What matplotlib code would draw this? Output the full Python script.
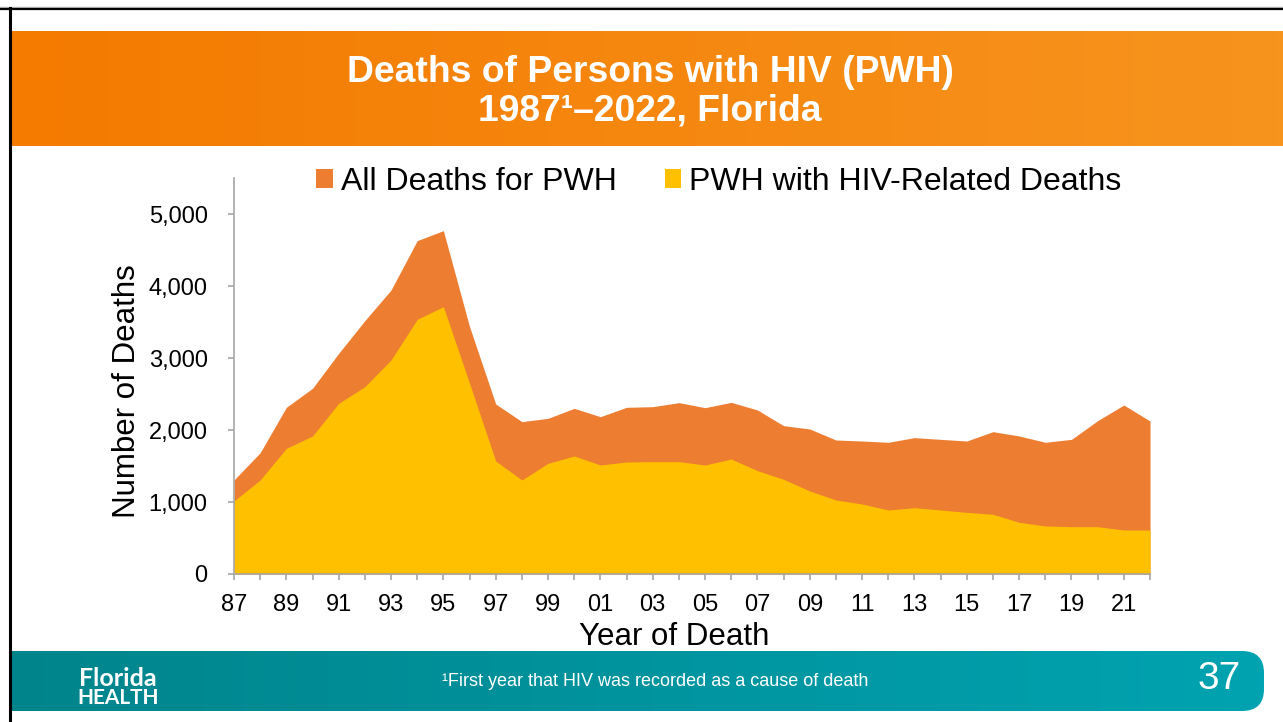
import matplotlib
matplotlib.use("Agg")
import matplotlib.pyplot as plt
import numpy as np
from matplotlib.patches import Patch, FancyBboxPatch, Rectangle
from matplotlib.colors import LinearSegmentedColormap

plt.rcParams['font.family'] = ['Liberation Sans', 'DejaVu Sans']

# data
years = list(range(1987, 2023))
all_deaths = [1306, 1685, 2315, 2579, 3065, 3519, 3944, 4630, 4769, 3435,
              2361, 2116, 2162, 2301, 2185, 2315, 2324, 2380, 2310, 2384,
              2278, 2060, 2014, 1861, 1847, 1829, 1894, 1870, 1847, 1977,
              1917, 1829, 1870, 2130, 2347, 2125]
hiv_deaths = [1014, 1306, 1745, 1917, 2370, 2602, 2972, 3537, 3713, 2648,
              1569, 1306, 1537, 1639, 1514, 1556, 1560, 1560, 1514, 1597,
              1435, 1315, 1153, 1028, 972, 889, 921, 889, 856, 829,
              718, 667, 657, 657, 611, 611]
series_names = ['All Deaths for PWH', 'PWH with HIV-Related Deaths']
year_labels = [f"{y % 100:02d}" if y % 2 == 1 else '' for y in years]
y_ticks = [0, 1000, 2000, 3000, 4000, 5000]

ORANGE = '#ED7D31'
YELLOW = '#FFC000'
AXIS_GRAY = '#A6A6A6'

W, H = 1283, 722
fig = plt.figure(figsize=(W / 100, H / 100), dpi=100)
fig.patch.set_facecolor('white')

# slide decorations, drawn in pixel coords
bg = fig.add_axes([0, 0, 1, 1], zorder=-1)
bg.set_xlim(0, W)
bg.set_ylim(H, 0)
bg.axis('off')

grad = np.linspace(0, 1, 256).reshape(1, -1)
orange_cmap = LinearSegmentedColormap.from_list('o', ['#F47A00', '#F7941E'])
bg.imshow(grad, cmap=orange_cmap, extent=(11, W, 146, 31), aspect='auto')

teal_cmap = LinearSegmentedColormap.from_list('t', ['#00838A', '#00A3B1'])
band = FancyBboxPatch((-40, 651), 1304, 60,
                      boxstyle="round,pad=0,rounding_size=22",
                      facecolor='none', edgecolor='none')
bg.add_patch(band)
im = bg.imshow(grad, cmap=teal_cmap, extent=(-40, 1264, 711, 651), aspect='auto')
im.set_clip_path(band)

bg.add_patch(Rectangle((0, 0), 9, H, facecolor='white', edgecolor='none'))
bg.plot([0, W], [7, 7], color='#BBBBBB', lw=1.0)
bg.plot([0, W], [9, 9], color='black', lw=1.6)
bg.plot([9.5, 9.5], [8, H], color='black', lw=2.2)
bg.set_xlim(0, W)
bg.set_ylim(H, 0)

fig.text(650 / W, 1 - 82 / H, 'Deaths of Persons with HIV (PWH)', color='white',
         fontsize=26.8, fontweight='bold', ha='center', va='baseline')
fig.text(650 / W, 1 - 120 / H, '1987\u00b9\u20132022, Florida', color='white',
         fontsize=26.8, fontweight='bold', ha='center', va='baseline')

# footer
fig.text(118 / W, 1 - 686 / H, 'Florida', color='white', fontsize=18,
         fontweight='bold', family='Lato', ha='center', va='baseline')
fig.text(118 / W, 1 - 704 / H, 'HEALTH', color='white', fontsize=15,
         fontweight='bold', family='Lato', ha='center', va='baseline')
fig.text(655 / W, 1 - 686 / H, '\u00b9First year that HIV was recorded as a cause of death',
         color='white', fontsize=13, ha='center', va='baseline')
fig.text(1219 / W, 1 - 679 / H, '37', color='white', fontsize=28,
         ha='center', va='center')

# chart
ax = fig.add_axes([234 / W, 1 - 574 / H, 916 / W, 396 / H])
ax.fill_between(years, 0, all_deaths, color=ORANGE, lw=0)
ax.fill_between(years, 0, hiv_deaths, color=YELLOW, lw=0)
ax.set_xlim(years[0], years[-1])
ax.set_ylim(0, 5500)
ax.set_xticks(years)
ax.set_xticklabels(year_labels)
ax.set_yticks(y_ticks)
ax.set_yticklabels([f"{v:,}" for v in y_ticks])
for s in ['top', 'right']:
    ax.spines[s].set_visible(False)
for s in ['left', 'bottom']:
    ax.spines[s].set_color(AXIS_GRAY)
    ax.spines[s].set_linewidth(1.2)
ax.tick_params(axis='both', colors=AXIS_GRAY, labelcolor='black',
               labelsize=17, length=4.5, width=1.2, direction='out')
ax.tick_params(axis='x', pad=10)
ax.tick_params(axis='y', pad=14.5)
ax.set_facecolor('none')

ax.set_ylabel('Number of Deaths', fontsize=22.5)
ax.yaxis.set_label_coords(-0.100, 0.462)
ax.set_xlabel('Year of Death', fontsize=22.5)
ax.xaxis.set_label_coords(0.481, -0.12)

handles = [Patch(facecolor=ORANGE), Patch(facecolor=YELLOW)]
fig.legend(handles, series_names, loc='center', bbox_to_anchor=(719 / W, 1 - 182 / H),
           ncol=2, frameon=False, fontsize=23, handlelength=0.52, handleheight=0.52,
           handletextpad=0.25, columnspacing=1.5, borderaxespad=0)

fig.savefig('out.png', dpi=100)
